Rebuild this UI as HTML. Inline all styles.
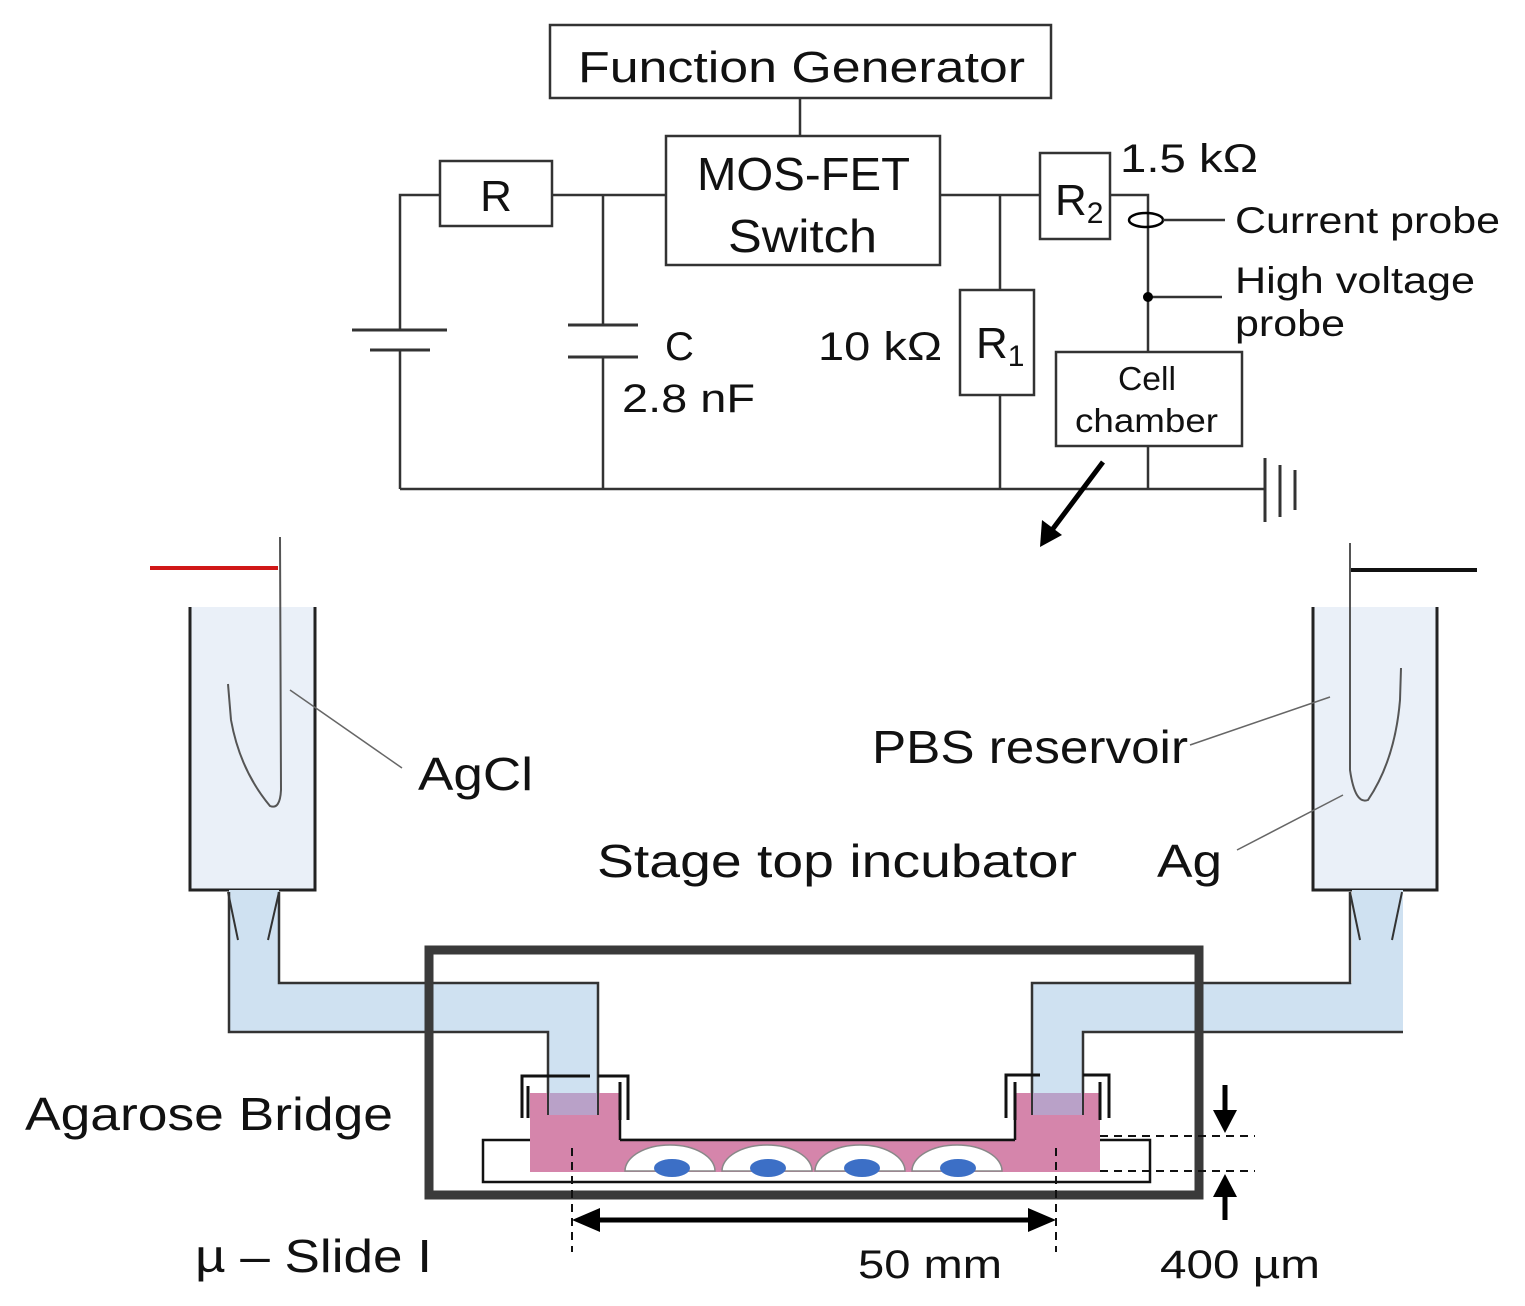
<!DOCTYPE html>
<html><head><meta charset="utf-8"><style>
html,body{margin:0;padding:0;background:#fff}
svg{display:block}
text{font-family:"Liberation Sans","DejaVu Sans",sans-serif;fill:#111}
</style></head><body>
<svg width="1525" height="1306" viewBox="0 0 1525 1306" xmlns="http://www.w3.org/2000/svg">
<g stroke="#333" stroke-width="2.5" fill="none">
<rect x="550" y="25" width="501" height="73" fill="#fff"/>
<line x1="800" y1="98" x2="800" y2="136"/>
<rect x="666" y="136" width="274" height="129" fill="#fff"/>
<rect x="440" y="161" width="112" height="65"/>
<rect x="1040" y="153" width="70" height="86"/>
<rect x="960" y="290" width="74" height="105"/>
<rect x="1056" y="352" width="186" height="94"/>
<polyline points="440,195 400,195 400,330"/>
<line x1="400" y1="350" x2="400" y2="489"/>
<line x1="552" y1="195" x2="666" y2="195"/>
<line x1="940" y1="195" x2="1040" y2="195"/>
<polyline points="1110,195 1148,195 1148,352"/>
<line x1="603" y1="195" x2="603" y2="325"/>
<line x1="603" y1="357" x2="603" y2="489"/>
<line x1="1000" y1="195" x2="1000" y2="290"/>
<line x1="1000" y1="395" x2="1000" y2="489"/>
<line x1="1148" y1="446" x2="1148" y2="489"/>
<line x1="400" y1="489" x2="1264" y2="489"/>
<line x1="1265" y1="458" x2="1265" y2="522" stroke-width="3"/>
<line x1="1280" y1="465" x2="1280" y2="517" stroke-width="3"/>
<line x1="1295" y1="470" x2="1295" y2="510" stroke-width="3"/>
<line x1="352" y1="330" x2="447" y2="330" stroke-width="3"/>
<line x1="370" y1="350" x2="430" y2="350" stroke-width="3"/>
<line x1="568" y1="325" x2="638" y2="325" stroke-width="3"/>
<line x1="568" y1="357" x2="638" y2="357" stroke-width="3"/>
<ellipse cx="1146" cy="220" rx="17" ry="7" stroke="#000"/>
<line x1="1163" y1="220" x2="1225" y2="220"/>
<line x1="1148" y1="297" x2="1222" y2="297"/>
</g>
<circle cx="1148" cy="297" r="5" fill="#000"/>
<line x1="1103" y1="462" x2="1052" y2="530" stroke="#000" stroke-width="5"/>
<polygon points="1040,547 1042,520 1062,535" fill="#000"/>

<text x="578" y="82" font-size="44" textLength="447" lengthAdjust="spacingAndGlyphs">Function Generator</text>
<text x="697" y="190" font-size="46" textLength="213" lengthAdjust="spacingAndGlyphs">MOS-FET</text>
<text x="728" y="252" font-size="46" textLength="149" lengthAdjust="spacingAndGlyphs">Switch</text>
<text x="496" y="211" font-size="44" text-anchor="middle">R</text>
<text x="1055" y="215" font-size="44">R<tspan font-size="30" dy="8">2</tspan></text>
<text x="976" y="358" font-size="44">R<tspan font-size="30" dy="8">1</tspan></text>
<text x="1118" y="390" font-size="33" fill="#333" textLength="58" lengthAdjust="spacingAndGlyphs">Cell</text>
<text x="1075" y="432" font-size="33" fill="#333" textLength="143" lengthAdjust="spacingAndGlyphs">chamber</text>
<text x="665" y="360" font-size="40">C</text>
<text x="622" y="412" font-size="40" textLength="133" lengthAdjust="spacingAndGlyphs">2.8 nF</text>
<text x="818" y="360" font-size="40" textLength="124" lengthAdjust="spacingAndGlyphs">10 kΩ</text>
<text x="1120" y="172" font-size="40" textLength="138" lengthAdjust="spacingAndGlyphs">1.5 kΩ</text>
<text x="1235" y="233" font-size="37" textLength="265" lengthAdjust="spacingAndGlyphs">Current probe</text>
<text x="1235" y="293" font-size="37" textLength="240" lengthAdjust="spacingAndGlyphs">High voltage</text>
<text x="1235" y="336" font-size="37" textLength="110" lengthAdjust="spacingAndGlyphs">probe</text>

<rect x="190" y="607" width="125" height="283" fill="#eaf0f8"/>
<polyline points="190,607 190,890 315,890 315,607" fill="none" stroke="#222" stroke-width="3"/>
<rect x="1313" y="607" width="124" height="283" fill="#eaf0f8"/>
<polyline points="1313,607 1313,890 1437,890 1437,607" fill="none" stroke="#222" stroke-width="3"/>
<path d="M229,890 L279,890 L279,983 L598,983 L598,1093 L548,1093 L548,1032 L229,1032 Z" fill="#cfe1f1"/>
<polyline points="229,892 229,1032 548,1032 548,1093" fill="none" stroke="#333" stroke-width="2.5"/>
<polyline points="279,892 279,983 598,983 598,1093" fill="none" stroke="#333" stroke-width="2.5"/>
<path d="M1403,890 L1352,890 L1352,983 L1032,983 L1032,1093 L1083,1093 L1083,1032 L1403,1032 Z" fill="#cfe1f1"/>
<polyline points="1350,892 1350,983 1032,983 1032,1093" fill="none" stroke="#333" stroke-width="2.5"/>
<polyline points="1083,1093 1083,1032 1403,1032" fill="none" stroke="#333" stroke-width="2.5"/>
<g stroke="#333" stroke-width="2" fill="none">
<line x1="228" y1="892" x2="238" y2="940"/><line x1="279" y1="892" x2="268" y2="940"/>
<line x1="1350" y1="892" x2="1360" y2="940"/><line x1="1402" y1="892" x2="1392" y2="940"/>
</g>
<line x1="150" y1="568" x2="278" y2="568" stroke="#d01818" stroke-width="4"/>
<path d="M280,537 L281,790 Q280,810 270,806 Q240,770 231,720 L228,684" fill="none" stroke="#555" stroke-width="2"/>
<line x1="290" y1="690" x2="402" y2="768" stroke="#666" stroke-width="1.5"/>
<line x1="1350" y1="570" x2="1477" y2="570" stroke="#111" stroke-width="4"/>
<path d="M1350,543 L1350,770 Q1355,805 1368,800 Q1395,760 1400,700 L1401,668" fill="none" stroke="#555" stroke-width="2"/>
<line x1="1190" y1="745" x2="1330" y2="697" stroke="#666" stroke-width="1.5"/>
<line x1="1237" y1="850" x2="1343" y2="795" stroke="#666" stroke-width="1.5"/>
<rect x="429" y="950" width="770" height="245" fill="none" stroke="#3a3a3a" stroke-width="9"/>
<rect x="483" y="1140" width="667" height="42" fill="#fff" stroke="#111" stroke-width="2.5"/>
<path d="M530,1093 L620,1093 L620,1140 L1015,1140 L1015,1093 L1100,1093 L1100,1172 L530,1172 Z" fill="#d585ab"/>
<rect x="548" y="1093" width="50" height="22" fill="#b9a1c8"/>
<rect x="1032" y="1093" width="51" height="22" fill="#b9a1c8"/>
<line x1="620" y1="1140" x2="1015" y2="1140" stroke="#111" stroke-width="2.5"/>
<line x1="620" y1="1093" x2="620" y2="1140" stroke="#111" stroke-width="2.5"/>
<line x1="1015" y1="1093" x2="1015" y2="1140" stroke="#111" stroke-width="2.5"/>
<line x1="548" y1="1093" x2="548" y2="1115" stroke="#333" stroke-width="2"/>
<line x1="598" y1="1093" x2="598" y2="1115" stroke="#333" stroke-width="2"/>
<line x1="1032" y1="1093" x2="1032" y2="1115" stroke="#333" stroke-width="2"/>
<line x1="1083" y1="1093" x2="1083" y2="1115" stroke="#333" stroke-width="2"/>
<g fill="none" stroke="#111" stroke-width="3">
<polyline points="522,1118 522,1076 590,1076"/><polyline points="528,1118 528,1086"/>
<polyline points="598,1076 628,1076 628,1120"/><polyline points="620,1082 620,1120"/>
<polyline points="1006,1118 1006,1075 1040,1075"/><polyline points="1015,1082 1015,1120"/>
<polyline points="1083,1075 1109,1075 1109,1118"/><polyline points="1100,1082 1100,1120"/>
</g>
<g>
<path d="M625,1171 A45,26 0 0 1 715,1171 Z" fill="#fff" stroke="#888" stroke-width="1.5"/>
<ellipse cx="672" cy="1168" rx="18" ry="9" fill="#3c6fc6"/>
<path d="M722,1171 A45,26 0 0 1 812,1171 Z" fill="#fff" stroke="#888" stroke-width="1.5"/>
<ellipse cx="768" cy="1168" rx="18" ry="9" fill="#3c6fc6"/>
<path d="M815,1171 A45,26 0 0 1 905,1171 Z" fill="#fff" stroke="#888" stroke-width="1.5"/>
<ellipse cx="862" cy="1168" rx="18" ry="9" fill="#3c6fc6"/>
<path d="M912,1171 A45,26 0 0 1 1002,1171 Z" fill="#fff" stroke="#888" stroke-width="1.5"/>
<ellipse cx="958" cy="1168" rx="18" ry="9" fill="#3c6fc6"/>
</g>
<g stroke="#111" stroke-width="2" stroke-dasharray="8,6" fill="none">
<line x1="572" y1="1148" x2="572" y2="1252"/>
<line x1="1056" y1="1148" x2="1056" y2="1252"/>
<line x1="1100" y1="1136" x2="1255" y2="1136"/>
<line x1="1100" y1="1171" x2="1255" y2="1171"/>
</g>
<line x1="592" y1="1220" x2="1036" y2="1220" stroke="#000" stroke-width="5"/>
<polygon points="572,1220 600,1208 600,1232" fill="#000"/>
<polygon points="1056,1220 1028,1208 1028,1232" fill="#000"/>
<line x1="1225" y1="1085" x2="1225" y2="1115" stroke="#000" stroke-width="5"/>
<polygon points="1225,1133 1213,1110 1237,1110" fill="#000"/>
<line x1="1225" y1="1192" x2="1225" y2="1220" stroke="#000" stroke-width="5"/>
<polygon points="1225,1174 1213,1197 1237,1197" fill="#000"/>

<text x="418" y="790" font-size="46" textLength="115" lengthAdjust="spacingAndGlyphs">AgCl</text>
<text x="872" y="763" font-size="46" textLength="316" lengthAdjust="spacingAndGlyphs">PBS reservoir</text>
<text x="597" y="877" font-size="46" textLength="480" lengthAdjust="spacingAndGlyphs">Stage top incubator</text>
<text x="1157" y="877" font-size="46" textLength="65" lengthAdjust="spacingAndGlyphs">Ag</text>
<text x="25" y="1130" font-size="46" textLength="368" lengthAdjust="spacingAndGlyphs">Agarose Bridge</text>
<text x="195" y="1272" font-size="46" textLength="237" lengthAdjust="spacingAndGlyphs">µ – Slide I</text>
<text x="858" y="1278" font-size="40" textLength="144" lengthAdjust="spacingAndGlyphs">50 mm</text>
<text x="1160" y="1278" font-size="40" textLength="160" lengthAdjust="spacingAndGlyphs">400 µm</text>
</svg>
</body></html>
